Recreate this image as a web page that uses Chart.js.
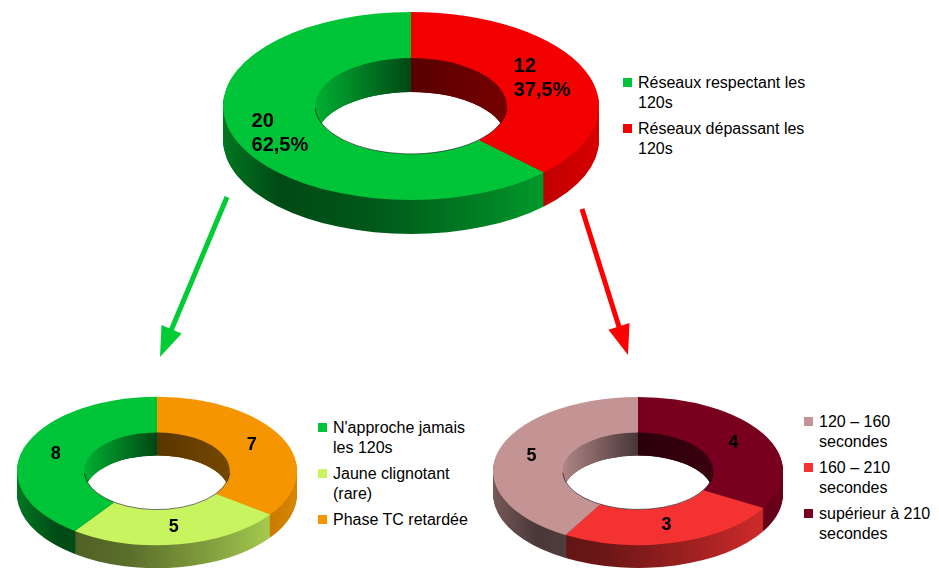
<!DOCTYPE html>
<html><head><meta charset="utf-8">
<script src="https://cdn.jsdelivr.net/npm/chart.js@4.4.0/dist/chart.umd.min.js"></script>
<style>
html,body{margin:0;padding:0;background:#fff;}
body{width:939px;height:568px;overflow:hidden;position:relative;font-family:"Liberation Sans",Arial,sans-serif;}
canvas{position:absolute;}
svg{position:absolute;left:0;top:0;}
.legend{position:absolute;font-size:16px;line-height:20px;color:#000;}
.item{display:flex;align-items:flex-start;margin-bottom:6px;}
.sw{width:9px;height:9px;margin-top:5px;margin-right:6px;flex:none;}
</style></head><body>
<svg width="939" height="568">
  <line x1="227" y1="197" x2="170" y2="333" stroke="#00CC33" stroke-width="5"/>
  <polygon points="160,357 181.7,333.5 161.5,325.1" fill="#00CC33"/>
  <line x1="582" y1="209" x2="620" y2="330" stroke="#FF0000" stroke-width="5"/>
  <polygon points="628,355 629.5,323.1 608.5,329.7" fill="#FF0000"/>
</svg>
<canvas id="c1" width="400" height="236" style="left:211px;top:6px"></canvas>
<canvas id="c2" width="300" height="183" style="left:7px;top:391px"></canvas>
<canvas id="c3" width="310" height="183" style="left:483px;top:391px"></canvas>
<div class="legend" id="l1" style="left:623px;top:73px;"></div>
<div class="legend" id="l2" style="left:318px;top:418px;"></div>
<div class="legend" id="l3" style="left:804px;top:412px;"></div>
<script>
// ---- data ----
const topLabels = ['Réseaux respectant les 120s', 'Réseaux dépassant les 120s'];
const topValues = [20, 12];
const topColors = ['#00C437', '#F40000'];

const leftLabels = ["N'approche jamais les 120s", 'Jaune clignotant (rare)', 'Phase TC retardée'];
const leftValues = [8, 5, 7];
const leftColors = ['#00C437', '#C8F55F', '#F59600'];

const rightLabels = ['120 – 160 secondes', '160 – 210 secondes', 'supérieur à 210 secondes'];
const rightValues = [5, 3, 4];
const rightColors = ['#C49494', '#F53232', '#78001E'];

// ---- helpers ----
function rgb(hex){ const n = parseInt(hex.slice(1), 16); return [n >> 16 & 255, n >> 8 & 255, n & 255]; }
function shade(hex, m){ const c = rgb(hex); return 'rgb(' + c.map(v => Math.min(255, Math.round(v * m))).join(',') + ')'; }
const outerStops = [[0, 0.6], [0.15, 0.38], [0.4, 0.45], [0.7, 0.66], [0.9, 0.82], [1, 0.88]];
const innerStops = [[0, 0.9], [0.45, 0.42], [0.5, 0.36], [1, 0.48]];
function grad(ctx, R, hex, stops){
  const g = ctx.createLinearGradient(-R, 0, R, 0);
  stops.forEach(([t, m]) => g.addColorStop(t, shade(hex, m)));
  return g;
}
function ringPath(ctx, a){
  ctx.beginPath();
  ctx.arc(0, 0, a.outerRadius, a.startAngle, a.endAngle);
  ctx.arc(0, 0, a.innerRadius, a.endAngle, a.startAngle, true);
  ctx.closePath();
}

const pie3d = {
  id: 'pie3d',
  beforeDatasetsDraw(chart, args, opts){
    const ctx = chart.ctx, arcs = chart.getDatasetMeta(0).data;
    const colors = chart.data.datasets[0].backgroundColor;
    const a0 = arcs[0];
    const cx = a0.x, cy = a0.y, R = a0.outerRadius, r = a0.innerRadius;
    const k = opts.k, depth = opts.depth;
    const walls = (stops, RR) => {
      const gs = arcs.map((a, i) => grad(ctx, RR, colors[i], stops));
      for (let d = depth; d >= 1; d--) {
        arcs.forEach((a, i) => {
          ctx.save();
          ctx.translate(cx, cy + d);
          ctx.scale(1, k);
          ctx.fillStyle = gs[i];
          ringPath(ctx, a);
          ctx.fill();
          ctx.restore();
        });
      }
    };
    walls(outerStops, R);
    ctx.save();
    ctx.beginPath();
    ctx.ellipse(cx, cy, r, r * k, 0, 0, Math.PI * 2);
    ctx.clip();
    walls(innerStops, r);
    ctx.restore();
    // top face transform
    ctx.save();
    ctx.translate(cx, cy);
    ctx.scale(1, k);
    ctx.translate(-cx, -cy);
  },
  afterDatasetsDraw(chart, args, opts){
    const ctx = chart.ctx;
    ctx.restore();
    const arcs = chart.getDatasetMeta(0).data;
    const a0 = arcs[0];
    const cx = a0.x, cy = a0.y, r = a0.innerRadius, k = opts.k;
    ctx.save();
    ctx.beginPath();
    ctx.ellipse(cx, cy, r, r * k, 0, 0.05, Math.PI - 0.05);
    ctx.strokeStyle = 'rgba(0,0,0,0.55)';
    ctx.lineWidth = 1;
    ctx.stroke();
    ctx.restore();
    const vals = chart.data.datasets[0].data;
    const total = vals.reduce((s, v) => s + v, 0);
    ctx.save();
    ctx.font = 'bold ' + opts.fontSize + 'px "Liberation Sans", Arial, sans-serif';
    ctx.fillStyle = '#000';
    ctx.textBaseline = 'middle';
    ctx.textAlign = 'left';
    arcs.forEach((a, i) => {
      const p = a.getCenterPoint();
      const px = p.x, py = cy + (p.y - cy) * k;
      const lines = [String(vals[i])];
      if (opts.pct) lines.push((vals[i] / total * 100).toFixed(1).replace('.', ',') + '%');
      const w = Math.max(...lines.map(l => ctx.measureText(l).width));
      lines.forEach((l, j) => ctx.fillText(l, px - w / 2, py + (j - (lines.length - 1) / 2) * opts.lineHeight));
    });
    ctx.restore();
  }
};

// The original slices run counter-clockwise from 12 o'clock in legend order,
// so the library gets the series reversed (clockwise from 12 o'clock).
function makeChart(id, labels, values, colors, cfg){
  const rev = a => a.slice().reverse();
  return new Chart(document.getElementById(id), {
    type: 'doughnut',
    data: { labels: rev(labels), datasets: [{ data: rev(values), backgroundColor: rev(colors), borderWidth: 0, clip: false }] },
    options: {
      responsive: false,
      animation: false,
      events: [],
      rotation: 0,
      radius: cfg.radius,
      cutout: cfg.cutout,
      layout: { padding: { top: 0, bottom: cfg.padBottom, left: 0, right: 0 } },
      plugins: {
        legend: { display: false },
        tooltip: { enabled: false },
        pie3d: cfg.pie
      }
    },
    plugins: [pie3d]
  });
}

makeChart('c1', topLabels, topValues, topColors,
  { radius: 188, cutout: '51%', padBottom: 36,
    pie: { k: 0.5, depth: 34, pct: true, fontSize: 20, lineHeight: 24 } });
makeChart('c2', leftLabels, leftValues, leftColors,
  { radius: 140, cutout: '52%', padBottom: 23,
    pie: { k: 0.53, depth: 23, pct: false, fontSize: 18, lineHeight: 22 } });
makeChart('c3', rightLabels, rightValues, rightColors,
  { radius: 145, cutout: '52%', padBottom: 23,
    pie: { k: 0.51, depth: 23, pct: false, fontSize: 18, lineHeight: 22 } });

function legend(id, labels, colors, width){
  const el = document.getElementById(id);
  labels.forEach((t, i) => {
    const it = document.createElement('div'); it.className = 'item';
    const sw = document.createElement('div'); sw.className = 'sw'; sw.style.background = colors[i];
    const tx = document.createElement('div'); tx.textContent = t; tx.style.width = width + 'px';
    it.appendChild(sw); it.appendChild(tx); el.appendChild(it);
  });
}
legend('l1', topLabels, topColors, 190);
legend('l2', leftLabels, leftColors, 150);
legend('l3', rightLabels, rightColors, 125);
</script>
</body></html>
